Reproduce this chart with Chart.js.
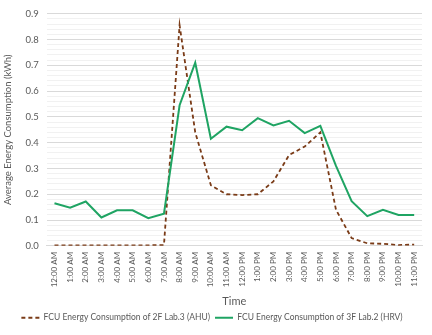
<!DOCTYPE html>
<html>
<head>
<meta charset="utf-8">
<script src="https://cdn.jsdelivr.net/npm/chart.js@4/dist/chart.umd.min.js"></script>
<style>
html,body{margin:0;padding:0;background:#fff;}
#wrap{width:432px;height:335px;position:relative;}
</style>
</head>
<body>
<div id="wrap"><canvas id="c" width="432" height="335"></canvas></div>
<script>
const categories = ["12:00 AM","1:00 AM","2:00 AM","3:00 AM","4:00 AM","5:00 AM","6:00 AM","7:00 AM","8:00 AM","9:00 AM","10:00 AM","11:00 AM","12:00 PM","1:00 PM","2:00 PM","3:00 PM","4:00 PM","5:00 PM","6:00 PM","7:00 PM","8:00 PM","9:00 PM","10:00 PM","11:00 PM"];
const ahuValues = [0.002,0.002,0.002,0.002,0.002,0.002,0.002,0.003,0.855,0.44,0.235,0.2,0.197,0.2,0.25,0.352,0.385,0.44,0.14,0.03,0.01,0.008,0.003,0.005];
const hrvValues = [0.165,0.148,0.172,0.11,0.138,0.138,0.107,0.125,0.545,0.71,0.415,0.462,0.448,0.495,0.467,0.485,0.437,0.465,0.31,0.173,0.115,0.14,0.12,0.12];
const seriesNames = ["FCU Energy Consumption of 2F Lab.3 (AHU)","FCU Energy Consumption of 3F Lab.2 (HRV)"];
const yTitle = "Average Energy Consumption (kWh)";
const xTitle = "Time";

const FONT = "Lato, 'Open Sans', sans-serif";
const TXT = "#595959";

new Chart(document.getElementById('c'), {
  type: 'line',
  data: {
    labels: categories,
    datasets: [
      {label: seriesNames[0], data: ahuValues, borderColor: '#7a3b17', backgroundColor: '#7a3b17',
       borderWidth: 1.8, borderDash: [4,3], pointRadius: 0, tension: 0, order: 1},
      {label: seriesNames[1], data: hrvValues, borderColor: '#1fa463', backgroundColor: '#1fa463',
       borderWidth: 2, pointRadius: 0, tension: 0, order: 0}
    ]
  },
  options: {
    responsive: false,
    animation: false,
    devicePixelRatio: 1,
    layout: {padding: {left: 2, right: 10, top: 2, bottom: 3}},
    plugins: {
      tooltip: {enabled: false},
      legend: {
        position: 'bottom',
        labels: {
          font: {family: FONT, size: 8.5}, color: TXT,
          usePointStyle: true, pointStyle: 'line', pointStyleWidth: 18, boxHeight: 8,
          padding: 5,
          sort: (a, b) => a.datasetIndex - b.datasetIndex,
          generateLabels: (chart) => {
            const items = Chart.defaults.plugins.legend.labels.generateLabels(chart);
            items.forEach(it => {
              const ds = chart.data.datasets[it.datasetIndex];
              it.lineDash = ds.borderDash || [];
              it.lineWidth = ds.borderWidth;
            });
            return items;
          }
        }
      }
    },
    scales: {
      x: {
        offset: true,
        grid: {display: false, drawTicks: false},
        border: {display: true, color: '#d9d9d9'},
        ticks: {font: {family: FONT, size: 8}, color: TXT, maxRotation: 90, minRotation: 90, autoSkip: false, padding: 6},
        title: {display: true, text: xTitle, font: {family: FONT, size: 11}, color: TXT, padding: {top: 2, bottom: 0}}
      },
      y: {
        min: 0, max: 0.9,
        grid: {
          drawTicks: false,
          color: (ctx) => {
            const v = ctx.tick ? ctx.tick.value : 0;
            return Math.abs(v * 10 - Math.round(v * 10)) < 1e-6 ? '#d9d9d9' : '#f1f1f1';
          }
        },
        border: {display: false},
        ticks: {
          stepSize: 0.02, font: {family: FONT, size: 9.5}, color: TXT, padding: 8,
          autoSkip: false,
          callback: (v) => Math.abs(v * 10 - Math.round(v * 10)) < 1e-6 ? v.toFixed(1) : ''
        },
        title: {display: true, text: yTitle, font: {family: FONT, size: 9.5}, color: TXT, padding: {top: 0, bottom: 4}}
      }
    }
  }
});
</script>
</body>
</html>
